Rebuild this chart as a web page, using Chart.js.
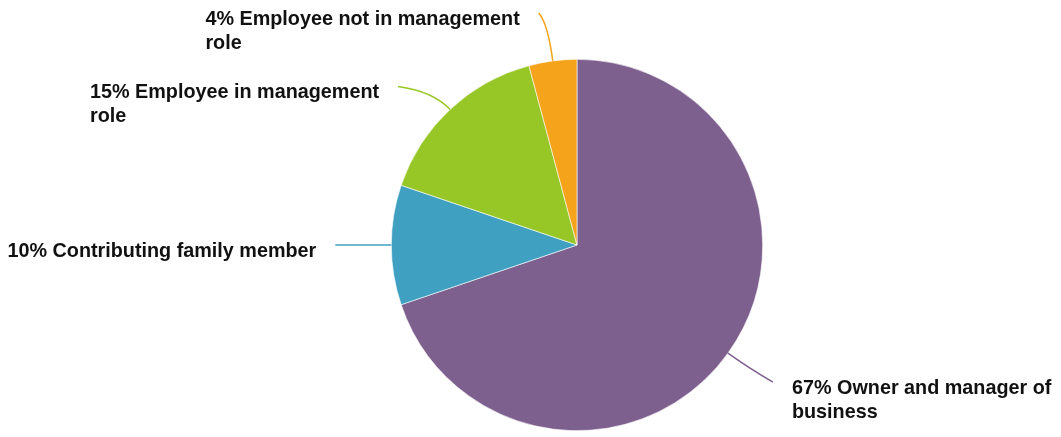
<!DOCTYPE html>
<html>
<head>
<meta charset="utf-8">
<script src="https://cdn.jsdelivr.net/npm/chart.js@4/dist/chart.umd.min.js"></script>
<style>
  html, body { margin: 0; padding: 0; background: #ffffff; }
  #wrap { width: 1061px; height: 437px; position: relative; }
</style>
</head>
<body>
<div id="wrap"><canvas id="c" width="1061" height="437"></canvas></div>
<script>
// ---- data ----
const categories = [
  ['Owner and manager of', 'business'],
  ['Contributing family member'],
  ['Employee in management', 'role'],
  ['Employee not in management', 'role']
];
const values = [67, 10, 15, 4];
const percentLabels = ['67%', '10%', '15%', '4%'];
const colors = ['#7E608E', '#40A0C2', '#97C726', '#F4A31B'];

// ---- label layout (style, not data) ----
const leaderStyle = {
  ends: [[45, 29], [-56, 0], [-52, -23], [-14, -48]],
  ctrl: [25, 20, 25, 38],
  gap: 19,
  font: 'bold 19.8px "Liberation Sans", Arial, Helvetica, sans-serif',
  lineHeight: 24,
  capOffset: 12
};

const leaderPlugin = {
  id: 'leaders',
  afterDraw(chart) {
    const ctx = chart.ctx;
    const meta = chart.getDatasetMeta(0);
    ctx.save();
    ctx.font = leaderStyle.font;
    meta.data.forEach((arc, i) => {
      const p = arc.getProps(['x', 'y', 'startAngle', 'endAngle', 'outerRadius'], true);
      const mid = (p.startAngle + p.endAngle) / 2;
      const dx = Math.cos(mid), dy = Math.sin(mid);
      const x0 = p.x + dx * p.outerRadius, y0 = p.y + dy * p.outerRadius;
      const e = leaderStyle.ends[i];
      const x2 = x0 + e[0], y2 = y0 + e[1];
      const k = leaderStyle.ctrl[i];
      const cx = x0 + dx * k, cy = y0 + dy * k;
      ctx.strokeStyle = colors[i];
      ctx.lineWidth = 1.5;
      ctx.beginPath();
      ctx.moveTo(x0, y0);
      if (e[1] === 0) ctx.lineTo(x2, y2); else ctx.quadraticCurveTo(cx, cy, x2, y2);
      ctx.stroke();

      const lines = categories[i].slice();
      lines[0] = percentLabels[i] + ' ' + lines[0];
      const w = Math.max(...lines.map(l => ctx.measureText(l).width));
      const left = e[0] >= 0 ? x2 + leaderStyle.gap : x2 - leaderStyle.gap - w;
      ctx.fillStyle = '#111111';
      ctx.textAlign = 'left';
      ctx.textBaseline = 'alphabetic';
      lines.forEach((l, j) => {
        ctx.fillText(l, left, y2 + leaderStyle.capOffset + j * leaderStyle.lineHeight);
      });
    });
    ctx.restore();
  }
};

new Chart(document.getElementById('c'), {
  type: 'pie',
  data: {
    labels: categories.map(c => c.join(' ')),
    datasets: [{
      data: values,
      backgroundColor: colors,
      borderColor: '#ffffff',
      borderWidth: 0.6
    }]
  },
  options: {
    responsive: false,
    animation: false,
    layout: { padding: { top: 59, bottom: 6, left: 93, right: 0 } },
    plugins: { legend: { display: false }, tooltip: { enabled: false } }
  },
  plugins: [leaderPlugin]
});
</script>
</body>
</html>
